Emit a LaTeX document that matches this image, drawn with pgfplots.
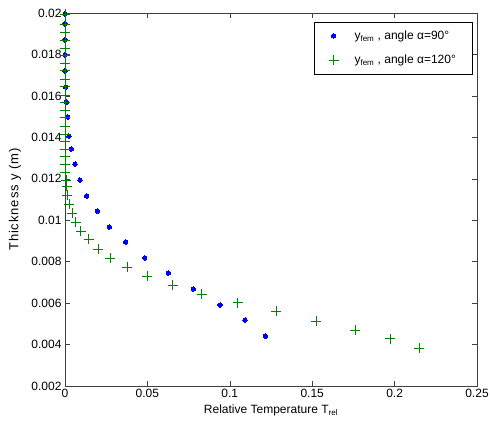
\documentclass[border=0pt]{standalone}
\usepackage{fontspec}
\setmainfont{Liberation Sans}
\usepackage{pgfplots}
\pgfplotsset{compat=1.18}
\definecolor{mgreen}{RGB}{0,128,0}
\definecolor{mblue}{RGB}{0,0,255}
\begin{document}
\begin{tikzpicture}
\begin{axis}[
  at={(0,0)}, anchor=south west,
  width=412pt, height=373pt, scale only axis,
  xmin=0, xmax=0.25, ymin=0.002, ymax=0.02,
  xtick={0,0.05,0.1,0.15,0.2,0.25},
  ytick={0.002,0.004,0.006,0.008,0.01,0.012,0.014,0.016,0.018,0.02},
  scaled ticks=false,
  /pgf/number format/assume math mode=true,
  tick label style={font=\fontsize{12}{14}\selectfont, /pgf/number format/fixed, /pgf/number format/precision=3},
  label style={font=\fontsize{12}{14}\selectfont},
  tick align=inside, major tick length=5pt,
  axis line style={black!75}, every tick/.style={black!75},
  xlabel={Relative Temperature T\textsubscript{rel}},
  ylabel={\fontsize{13}{15}\selectfont\addfontfeature{LetterSpace=7}Thickness y (m)},
  ylabel style={at={(axis description cs:-0.1214,0.5)}, anchor=center},
  legend style={at={(0.988,0.977)}, anchor=north east, draw=black, font=\fontsize{12}{14}\selectfont, row sep=10pt, inner xsep=14pt, inner ysep=7pt},
  legend cell align=left,
]
\addplot[only marks, mark=*, mark size=2.2pt, mblue, mark options={fill=mblue, draw=mblue, line width=0pt}] coordinates {
(0,0.01995) (0,0.01947) (0,0.0187) (0,0.01797) (0,0.0172)
(0.0004,0.01643) (0.0008,0.0157) (0.0016,0.01498) (0.0024,0.01406)
(0.0038,0.01344) (0.0061,0.01271) (0.0091,0.01194) (0.0132,0.01117)
(0.0196,0.01044) (0.0269,0.00967) (0.0368,0.00895) (0.0484,0.00818)
(0.0627,0.00745) (0.0779,0.00668) (0.0941,0.00591) (0.1093,0.00518)
(0.1216,0.00441)
};
\addlegendentry{\hspace*{14pt}y\textsubscript{fem} , angle α=90°}
\addplot[only marks, mark=+, mark size=5pt, mgreen, mark options={line width=0.8pt}] coordinates {
(0,0.01995) (0,0.01947) (0,0.01907) (0,0.0187) (0,0.0183) (0,0.01797)
(0,0.01757) (0,0.01722) (0,0.01681) (0,0.01644) (0,0.01604) (0,0.0157)
(0,0.01532) (0,0.01497) (0,0.01455) (0,0.01416) (0,0.01379) (0,0.01344)
(0.0001,0.01306) (0.0002,0.01271) (0.0003,0.01231) (0.0006,0.01193)
(0.001,0.01165) (0.0014,0.01122) (0.0026,0.01078) (0.0044,0.01033)
(0.0065,0.00991) (0.0095,0.00948) (0.0144,0.00908) (0.0202,0.0086)
(0.0275,0.00818) (0.0376,0.00773) (0.0498,0.00731) (0.0653,0.00686)
(0.0829,0.00644) (0.1048,0.00602) (0.128,0.00562) (0.1523,0.00514)
(0.176,0.00469) (0.1974,0.00428) (0.2148,0.00383)
};
\addlegendentry{\hspace*{14pt}y\textsubscript{fem} , angle α=120°}
\end{axis}
\pgfresetboundingbox
\path[use as bounding box] (-65pt,-41pt) rectangle (425pt,386pt);
\end{tikzpicture}
\end{document}
